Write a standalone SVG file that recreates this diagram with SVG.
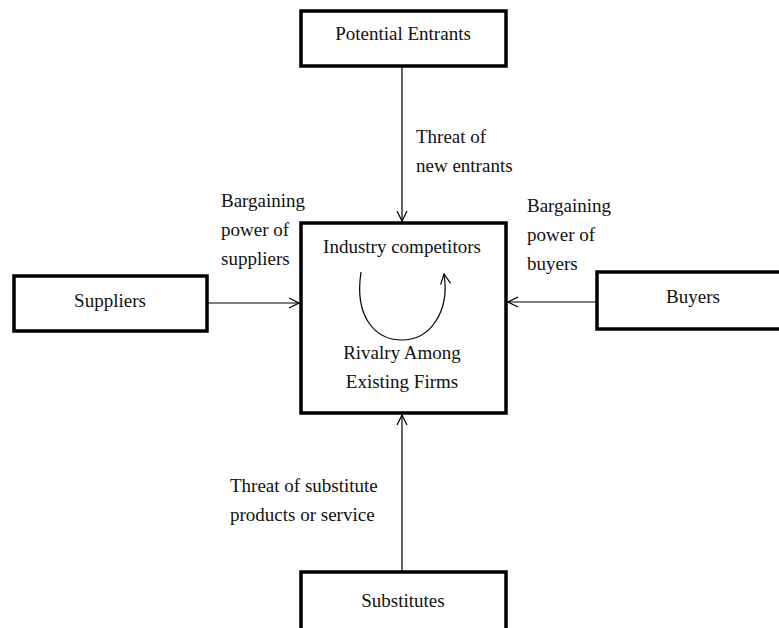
<svg xmlns="http://www.w3.org/2000/svg" width="779" height="628" viewBox="0 0 779 628">
<style>
.box{fill:#fff;stroke:#000;stroke-width:3.5}
.t{font-family:"Liberation Serif","Times New Roman",serif;font-size:19px;fill:#111}
.c{text-anchor:middle}
.ln{stroke:#000;stroke-width:1.2;fill:none}
</style>
<defs>
<marker id="ah" viewBox="0 0 12 12" refX="11" refY="6" markerWidth="12" markerHeight="12" markerUnits="userSpaceOnUse" orient="auto">
<path d="M1,1 L11,6 L1,11" fill="none" stroke="#000" stroke-width="1.2"/>
</marker>
</defs>
<rect width="779" height="628" fill="#fff"/>
<g id="connectors">
<line class="ln" x1="402" y1="66" x2="402" y2="221" marker-end="url(#ah)"/>
<line class="ln" x1="207" y1="303" x2="299" y2="303" marker-end="url(#ah)"/>
<line class="ln" x1="597" y1="302" x2="508" y2="302" marker-end="url(#ah)"/>
<line class="ln" x1="402" y1="572" x2="402" y2="415" marker-end="url(#ah)"/>
<text class="t" x="416" y="143">Threat of</text>
<text class="t" x="416" y="172">new entrants</text>
<text class="t" x="221" y="207">Bargaining</text>
<text class="t" x="221" y="236">power of</text>
<text class="t" x="221" y="265">suppliers</text>
<text class="t" x="527" y="212">Bargaining</text>
<text class="t" x="527" y="241">power of</text>
<text class="t" x="527" y="270">buyers</text>
<text class="t" x="230" y="492">Threat of substitute</text>
<text class="t" x="230" y="521">products or service</text>
</g>
<g id="potential-entrants">
<rect class="box" x="301" y="11" width="205" height="55"/>
<text class="t c" x="403" y="40">Potential Entrants</text>
</g>
<g id="industry-competitors">
<rect class="box" x="301" y="223" width="205" height="190"/>
<text class="t c" x="402" y="253">Industry competitors</text>
<path class="ln" d="M361,272 C354,318 376,340 402,340 C430,340 450,312 444,274" stroke="#333" stroke-width="1.4" marker-end="url(#ah)"/>
<text class="t c" x="402" y="359">Rivalry Among</text>
<text class="t c" x="402" y="388">Existing Firms</text>
</g>
<g id="suppliers">
<rect class="box" x="14" y="276" width="193" height="55"/>
<text class="t c" x="110" y="307">Suppliers</text>
</g>
<g id="buyers">
<rect class="box" x="597" y="272" width="200" height="57"/>
<text class="t c" x="693" y="303">Buyers</text>
</g>
<g id="substitutes">
<rect class="box" x="301" y="572" width="205" height="70"/>
<text class="t c" x="403" y="607">Substitutes</text>
</g>
</svg>
